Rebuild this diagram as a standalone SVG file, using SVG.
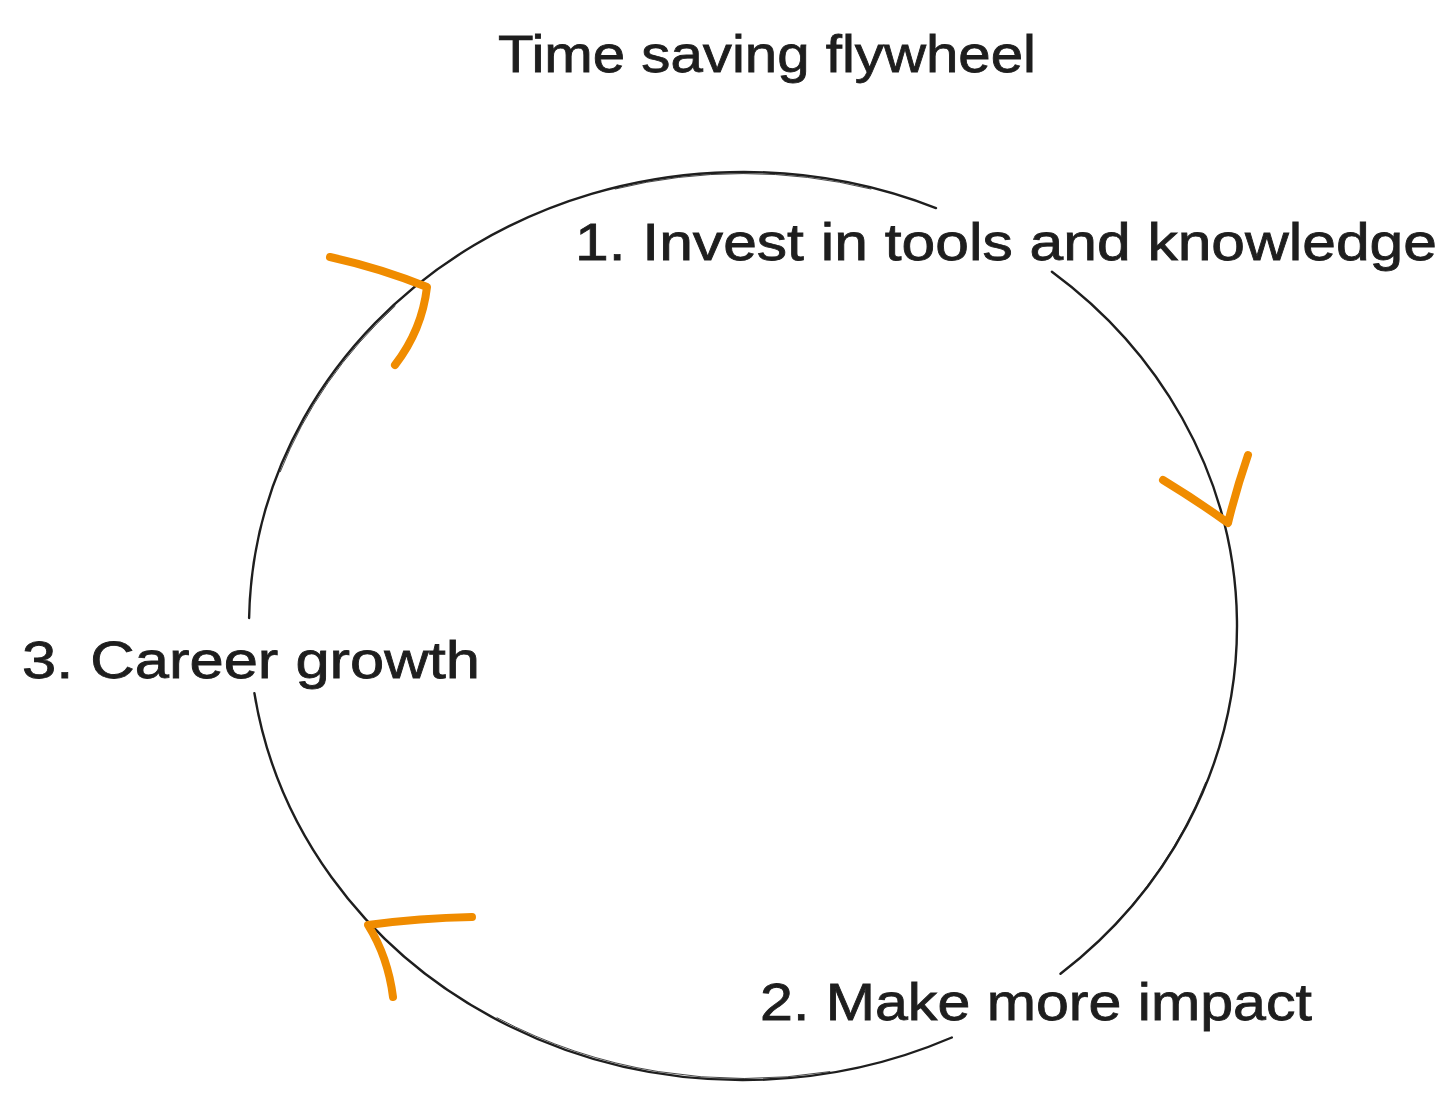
<svg xmlns="http://www.w3.org/2000/svg" width="1456" height="1100" viewBox="0 0 1456 1100">
  <style>
    .lbl { font-family: "Liberation Sans", "DejaVu Sans", sans-serif; fill: #1e1e1e; stroke: #1e1e1e; stroke-width: 0.8; font-size: 52px; }
    .ring { fill: none; stroke: #1e1e1e; stroke-width: 2.4; stroke-linecap: round; }
    .ring2 { fill: none; stroke: #1e1e1e; stroke-width: 1; stroke-linecap: round; opacity: 0.8; }
    .arrow { fill: none; stroke: #f08c00; stroke-width: 8; stroke-linecap: round; stroke-linejoin: round; }
  </style>
  <rect x="0" y="0" width="1456" height="1100" fill="#ffffff"/>

  <g id="title">
    <text class="lbl" x="498" y="72" font-size="53" textLength="538" lengthAdjust="spacingAndGlyphs">Time saving flywheel</text>
  </g>

  <g id="connectors">
    <path class="ring" d="M1051.9,271.7 A494,454 0 0 1 1060.5,973.8"/>
    <path class="ring" d="M951.8,1037.5 A494,454 0 0 1 254.4,693.1"/>
    <path class="ring" d="M249.1,618.1 A494,454 0 0 1 936,208.1"/>
    <path class="ring2" transform="translate(-1.5,1)" d="M1207.2,781.3 A494,454 0 0 1 1092.3,947"/>
    <path class="ring2" transform="translate(1,-1.5)" d="M828.8,1073.1 A494,454 0 0 1 496,1019.2"/>
    <path class="ring2" transform="translate(1.5,1)" d="M278.8,470.7 A494,454 0 0 1 393.7,305"/>
    <path class="ring2" transform="translate(0,1.5)" d="M615.2,187.5 A494,454 0 0 1 870.9,187.5"/>
    <path class="arrow" d="M330,257 Q380,268 427,287 Q422,330 395,365"/>
    <path class="arrow" d="M1163,480 Q1196,500 1228,523 Q1236,490 1248,455"/>
    <path class="arrow" d="M472,917 Q420,918 368,925 Q388,957 393,997"/>
  </g>

  <g id="node-1">
    <text class="lbl" x="575" y="260" textLength="862" lengthAdjust="spacingAndGlyphs">1. Invest in tools and knowledge</text>
  </g>
  <g id="node-2">
    <text class="lbl" x="760" y="1020" textLength="552" lengthAdjust="spacingAndGlyphs">2. Make more impact</text>
  </g>
  <g id="node-3">
    <text class="lbl" x="22" y="678" textLength="458" lengthAdjust="spacingAndGlyphs">3. Career growth</text>
  </g>
</svg>
